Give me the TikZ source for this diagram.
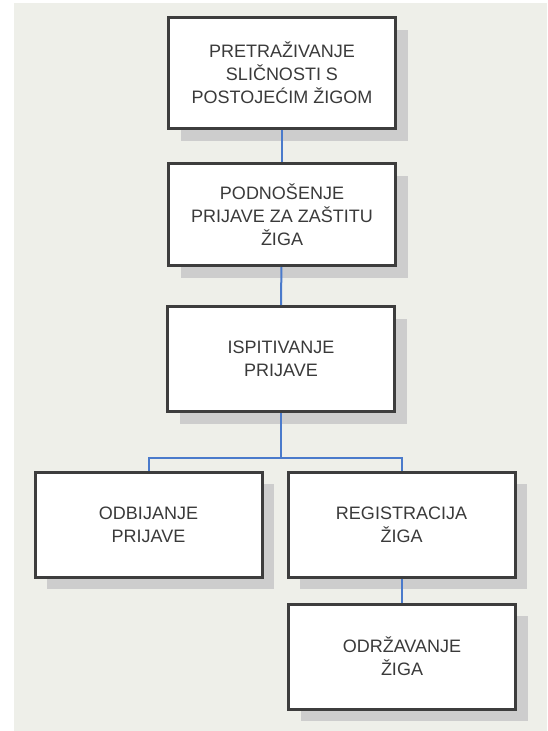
\documentclass[tikz,border=0pt]{standalone}
\usepackage{fontspec}
\setmainfont{Liberation Sans}
\usetikzlibrary{shadows}
\definecolor{panel}{HTML}{EEEFE9}
\definecolor{boxline}{HTML}{3D3D3D}
\definecolor{boxtext}{HTML}{3A3A3A}
\definecolor{linkblue}{HTML}{4A7ACB}
\definecolor{shade}{HTML}{CDCDCD}
\tikzstyle{stepbox}=[shape=rectangle,
                draw=boxline,
                fill=white,
                line width=3pt,
                minimum width=227pt,
                minimum height=105pt,
                align=center,
                text=boxtext,
                font=\fontsize{18}{23}\selectfont,
                drop shadow={shadow xshift=12pt,shadow yshift=-12pt,
                             fill=shade,opacity=1}]
\tikzstyle{link}=[draw=linkblue,line width=2pt]

\begin{document}
\begin{tikzpicture}[x=1pt,y=-1pt]

% background
\useasboundingbox (0,0) rectangle (547,731);
\fill[white] (0,0) rectangle (547,731);
\fill[panel] (14,3) rectangle (547,731);

% steps
\node[stepbox,minimum height=111pt] (s1) at (282,73)  {PRETRAŽIVANJE\\SLIČNOSTI S\\POSTOJEĆIM ŽIGOM};
\node[stepbox,minimum height=102pt] (s2) at (282,214.5)  {PODNOŠENJE\\PRIJAVE ZA ZAŠTITU\\ŽIGA};
\node[stepbox] (s3) at (281,359)  {ISPITIVANJE\\PRIJAVE};
\node[stepbox] (s4) at (148.5,524.5)  {ODBIJANJE\\PRIJAVE};
\node[stepbox] (s5) at (401.5,524.5)  {REGISTRACIJA\\ŽIGA};
\node[stepbox] (s6) at (402,656.5)  {ODRŽAVANJE\\ŽIGA};

% paths
\path[link] (s1) edge (s2);
\path[link] (s2) edge (s3.north);
\draw[link] (s3.south) -- ++(0,45) -| (s4.north);
\draw[link] (s3.south) -- ++(0,45) -| (s5.north);
\path[link] (s5.south) edge (s5.south |- s6.north);

\end{tikzpicture}
\end{document}
